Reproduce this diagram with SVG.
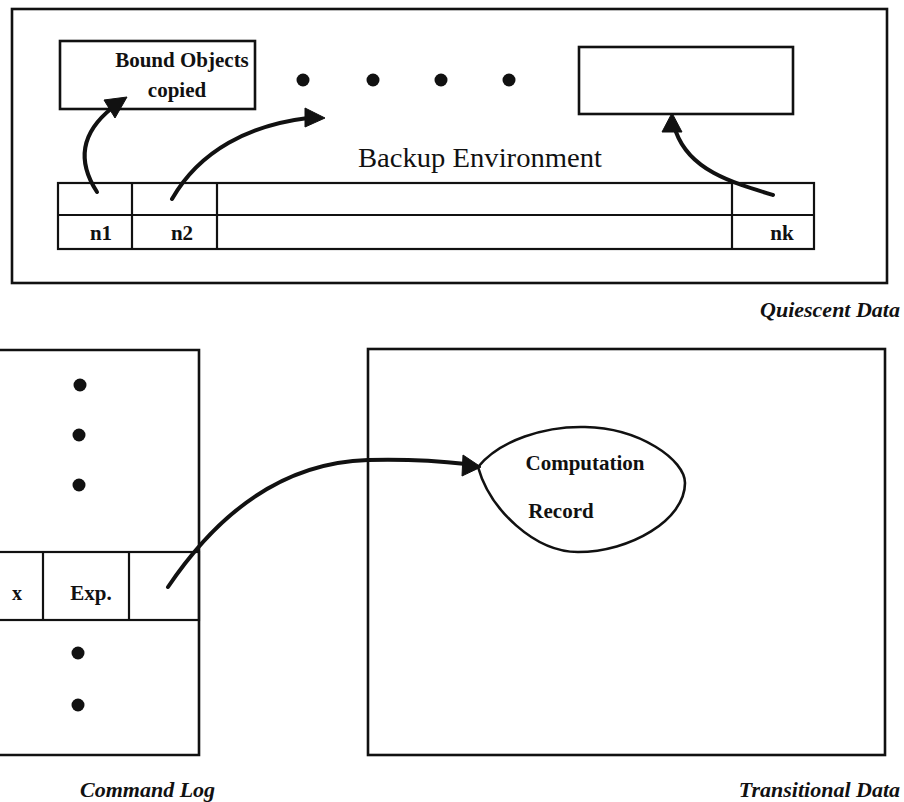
<svg xmlns="http://www.w3.org/2000/svg" width="904" height="802" viewBox="0 0 904 802">
  <style>
    .box { fill: none; stroke: #111; stroke-width: 2.6; }
    .cell { fill: none; stroke: #111; stroke-width: 2.2; }
    .lbl { font-family: "Liberation Serif", "Times New Roman", serif; fill: #111; }
    .b { font-weight: bold; }
    .cap { font-family: "Liberation Serif", "Times New Roman", serif; font-weight: bold; font-style: italic; fill: #111; font-size: 22px; }
    .edge { fill: none; stroke: #111; stroke-width: 4; stroke-linecap: round; }
    .head { fill: #111; stroke: #111; stroke-width: 1; stroke-linejoin: round; }
    .dot { fill: #111; }
  </style>
  <rect width="904" height="802" fill="#fff"/>

  <!-- Quiescent data: backup environment -->
  <g id="backup-environment">
    <rect class="box" x="12" y="9" width="875" height="274"/>
    <text class="lbl" x="358" y="167" font-size="28" textLength="244" lengthAdjust="spacingAndGlyphs">Backup Environment</text>
  </g>

  <g id="bound-objects">
    <rect class="box" x="60" y="41" width="195" height="68"/>
    <text class="lbl b" x="182" y="67" font-size="21" text-anchor="middle">Bound Objects</text>
    <text class="lbl b" x="177" y="97" font-size="21" text-anchor="middle">copied</text>
  </g>

  <g id="ellipsis-dots">
    <circle class="dot" cx="303" cy="80" r="6.5"/>
    <circle class="dot" cx="373" cy="80" r="6.5"/>
    <circle class="dot" cx="441" cy="80" r="6.5"/>
    <circle class="dot" cx="509" cy="80" r="6.5"/>
  </g>

  <g id="object-k">
    <rect class="box" x="579" y="47" width="214" height="67"/>
  </g>

  <g id="name-table">
    <rect class="cell" x="58" y="183" width="756" height="66"/>
    <line class="cell" x1="58" y1="215" x2="814" y2="215"/>
    <line class="cell" x1="132" y1="183" x2="132" y2="249"/>
    <line class="cell" x1="217" y1="183" x2="217" y2="249"/>
    <line class="cell" x1="732" y1="183" x2="732" y2="249"/>
    <text class="lbl b" x="101" y="240" font-size="21" text-anchor="middle">n1</text>
    <text class="lbl b" x="182" y="240" font-size="21" text-anchor="middle">n2</text>
    <text class="lbl b" x="782" y="240" font-size="21" text-anchor="middle">nk</text>
  </g>

  <text class="cap" x="900" y="317" text-anchor="end">Quiescent Data</text>

  <!-- Command log -->
  <g id="command-log">
    <path class="box" d="M -5 350 H 199 V 755 H -5"/>
    <rect class="cell" x="-5" y="552" width="204" height="68"/>
    <line class="cell" x1="43" y1="552" x2="43" y2="620"/>
    <line class="cell" x1="129" y1="552" x2="129" y2="620"/>
    <text class="lbl b" x="17" y="600" font-size="20" text-anchor="middle">x</text>
    <text class="lbl b" x="91" y="600" font-size="21" text-anchor="middle">Exp.</text>
    <circle class="dot" cx="80" cy="385" r="6.5"/>
    <circle class="dot" cx="79" cy="435" r="6.5"/>
    <circle class="dot" cx="79" cy="485" r="6.5"/>
    <circle class="dot" cx="78" cy="653" r="6.5"/>
    <circle class="dot" cx="78" cy="705" r="6.5"/>
  </g>
  <text class="cap" x="80" y="797">Command Log</text>

  <!-- Transitional data -->
  <g id="transitional-data">
    <rect class="box" x="368" y="349" width="517" height="406"/>
  </g>
  <text class="cap" x="900" y="797" text-anchor="end">Transitional Data</text>

  <g id="computation-record">
    <path class="box" d="M 478 467 C 500 440 545 426 585 427 C 640 428 685 460 685 483 C 685 520 630 552 578 552 C 535 552 490 510 478 467 Z"/>
    <text class="lbl b" x="585" y="470" font-size="21" text-anchor="middle">Computation</text>
    <text class="lbl b" x="561" y="518" font-size="21" text-anchor="middle">Record</text>
  </g>

  <!-- Connectors -->
  <g id="connectors">
    <path class="edge" d="M 97 192 C 84 172 72 140 112 108"/>
    <polygon class="head" points="104,100 127,97 115,118"/>

    <path class="edge" d="M 172 199 C 200 150 250 125 308 118"/>
    <polygon class="head" points="305,108 325,118 305,127"/>

    <path class="edge" d="M 773 195 C 730 182 690 170 676 132"/>
    <polygon class="head" points="662,132 672,113 682,132"/>

    <path class="edge" d="M 168 587 C 230 495 300 462 368 460 C 410 459 440 461 466 464"/>
    <polygon class="head" points="463,455 481,467 462,476"/>
  </g>
</svg>
